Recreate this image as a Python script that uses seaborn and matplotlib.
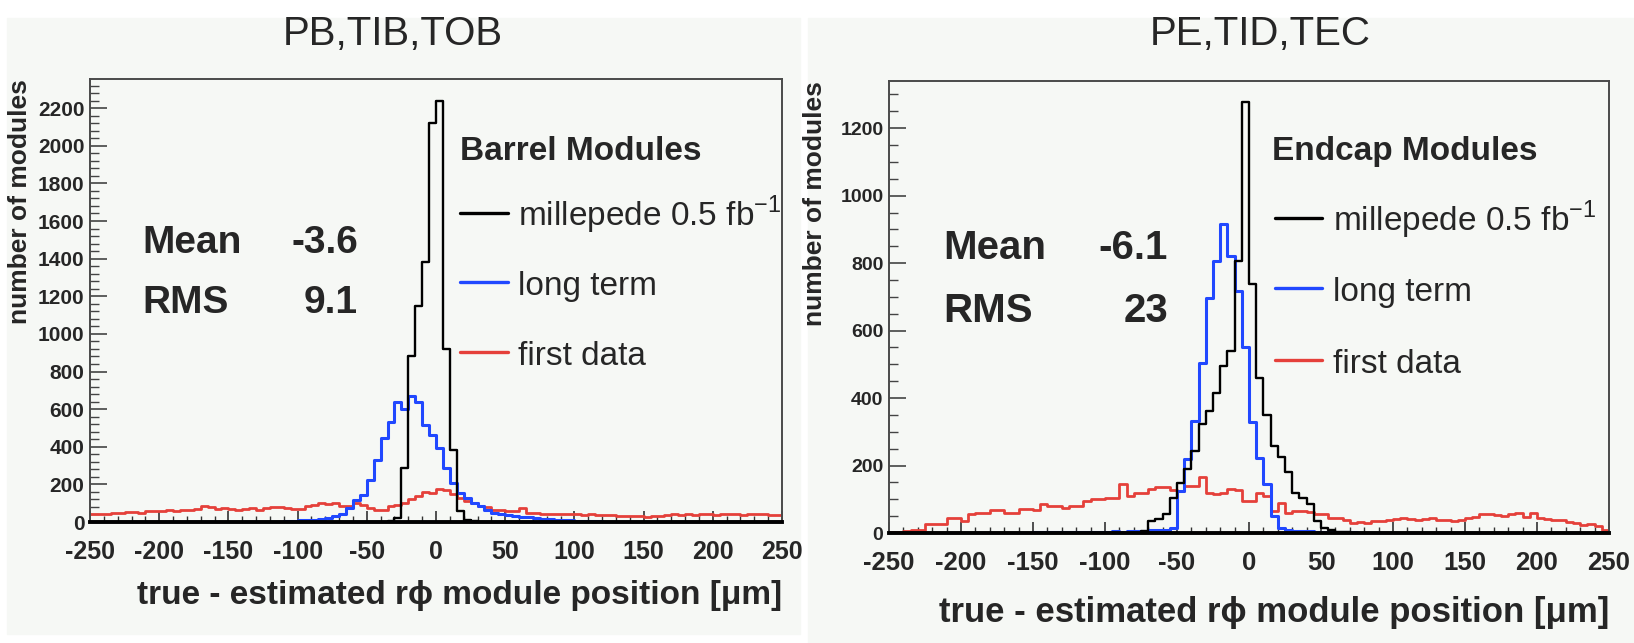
import numpy as np
import pandas as pd
import seaborn as sns
import matplotlib
matplotlib.use("Agg")
import matplotlib.pyplot as plt
from matplotlib.lines import Line2D
from matplotlib.patches import Rectangle
from matplotlib.ticker import MultipleLocator

# 5 um bins from -250 to 250 (left edges)
bin_left = list(range(-250, 250, 5))
bin_edges = list(range(-250, 255, 5))

x_ticks = [-250, -200, -150, -100, -50, 0, 50, 100, 150, 200, 250]
y_ticks_barrel = [0, 200, 400, 600, 800, 1000, 1200, 1400, 1600, 1800, 2000, 2200]
y_ticks_endcap = [0, 200, 400, 600, 800, 1000, 1200]

# --- barrel (PB, TIB, TOB) ---
barrel_millepede = [
    0, 0, 0, 0, 0, 0, 0, 0, 0, 0,
    0, 0, 0, 0, 0, 0, 0, 0, 0, 0,
    0, 0, 0, 0, 0, 0, 0, 0, 0, 0,
    0, 0, 0, 0, 0, 0, 0, 0, 0, 0,
    0, 0, 0, 5, 20, 285, 883, 1150, 1380, 2120,
    2240, 920, 382, 58, 12, 5, 0, 0, 0, 0,
    0, 0, 0, 0, 0, 0, 0, 0, 0, 0,
    0, 0, 0, 0, 0, 0, 0, 0, 0, 0,
    0, 0, 0, 0, 0, 0, 0, 0, 0, 0,
    0, 0, 0, 0, 0, 0, 0, 0, 0, 0,
]
barrel_longterm = [
    0, 0, 0, 0, 0, 0, 0, 0, 0, 0,
    0, 0, 0, 0, 0, 0, 0, 0, 0, 0,
    0, 0, 0, 0, 0, 0, 0, 0, 3, 5,
    8, 10, 12, 16, 22, 30, 45, 74, 118, 145,
    224, 330, 444, 533, 638, 603, 670, 638, 515, 462,
    392, 286, 206, 153, 127, 100, 85, 65, 50, 40,
    35, 30, 28, 25, 20, 18, 15, 12, 10, 8,
    6, 5, 4, 3, 2, 0, 0, 0, 0, 0,
    0, 0, 0, 0, 0, 0, 0, 0, 0, 0,
    0, 0, 0, 0, 0, 0, 0, 0, 0, 0,
]
barrel_firstdata = [
    42, 45, 40, 50, 48, 52, 55, 50, 58, 60,
    56, 62, 60, 65, 62, 70, 85, 80, 70, 72,
    68, 65, 70, 72, 66, 75, 80, 78, 72, 68,
    70, 84, 90, 100, 98, 102, 84, 86, 100, 92,
    74, 63, 62, 86, 92, 100, 120, 140, 160, 154,
    175, 172, 150, 127, 110, 101, 84, 80, 66, 64,
    56, 58, 72, 50, 48, 44, 45, 40, 42, 44,
    40, 38, 42, 36, 38, 35, 34, 30, 32, 30,
    28, 32, 30, 36, 40, 38, 42, 36, 40, 44,
    38, 42, 45, 40, 38, 44, 40, 42, 38, 35,
]

# --- endcap (PE, TID, TEC) ---
endcap_millepede = [
    0, 0, 0, 0, 0, 0, 0, 0, 0, 0,
    0, 0, 0, 0, 0, 0, 0, 0, 0, 0,
    0, 0, 0, 0, 0, 0, 0, 0, 0, 0,
    0, 0, 0, 0, 0, 5, 35, 42, 56, 105,
    149, 190, 243, 323, 362, 416, 495, 540, 807, 1277,
    738, 460, 350, 258, 226, 180, 120, 105, 85, 35,
    15, 8, 4, 2, 0, 0, 0, 0, 0, 0,
    0, 0, 0, 0, 0, 0, 0, 0, 0, 0,
    0, 0, 0, 0, 0, 0, 0, 0, 0, 0,
    0, 0, 0, 0, 0, 0, 0, 0, 0, 0,
]
endcap_longterm = [
    0, 0, 0, 0, 0, 0, 0, 0, 0, 0,
    0, 0, 0, 0, 0, 0, 0, 0, 0, 0,
    2, 3, 2, 3, 4, 3, 3, 4, 3, 4,
    4, 5, 4, 6, 5, 6, 8, 8, 10, 15,
    125, 219, 332, 505, 698, 807, 916, 822, 718, 550,
    330, 222, 145, 50, 15, 8, 6, 5, 5, 4,
    4, 3, 3, 2, 2, 1, 1, 1, 0, 0,
    0, 0, 0, 0, 0, 0, 0, 0, 0, 0,
    0, 0, 0, 0, 0, 0, 0, 0, 0, 0,
    0, 0, 0, 0, 0, 0, 0, 0, 0, 0,
]
endcap_firstdata = [
    2, 3, 5, 8, 10, 27, 27, 27, 45, 45,
    35, 55, 60, 60, 67, 67, 60, 60, 70, 70,
    67, 85, 80, 80, 75, 80, 80, 95, 100, 100,
    105, 105, 145, 110, 120, 120, 130, 135, 135, 128,
    125, 140, 140, 165, 120, 115, 118, 130, 128, 95,
    95, 120, 110, 65, 90, 60, 65, 65, 62, 55,
    55, 45, 45, 40, 30, 32, 30, 35, 35, 40,
    42, 45, 42, 40, 42, 45, 40, 38, 35, 40,
    45, 48, 55, 55, 52, 50, 55, 58, 48, 60,
    45, 42, 38, 38, 32, 30, 25, 28, 22, 10,
]

series_names = ["millepede 0.5 fb$^{\\mathregular{-1}}$", "long term", "first data"]
colors = {"millepede": "black", "longterm": "#2148ff", "firstdata": "#e5403a"}
widths = {"millepede": 1.7, "longterm": 2.2, "firstdata": 2.0}

W, H = 1634, 643
BG = "#f6f8f5"


def fx(x):
    return x / W


def fy(y):
    return 1 - y / H


sns.set_style("ticks")
plt.rcParams["font.family"] = ["Liberation Sans", "DejaVu Sans"]
plt.rcParams["mathtext.fontset"] = "custom"
plt.rcParams["mathtext.rm"] = "Liberation Sans"
plt.rcParams["axes.facecolor"] = BG

fig = plt.figure(figsize=(W / 100, H / 100), dpi=100, facecolor="white")
fig.add_artist(Rectangle((fx(7), fy(634)), fx(800) - fx(7), fy(18) - fy(634),
                         transform=fig.transFigure, color=BG, zorder=-10))
fig.add_artist(Rectangle((fx(808), fy(643)), fx(1634) - fx(808), fy(18) - fy(643),
                         transform=fig.transFigure, color=BG, zorder=-10))


def make_axes(l, t, r, b):
    return fig.add_axes([fx(l), fy(b), fx(r) - fx(l), fy(t) - fy(b)])


def draw_panel(ax, df, ymax, yticks, yminor, ysize, xsize, labx, laby):
    for key in ["firstdata", "longterm", "millepede"]:
        sns.histplot(data=df, x="pos", weights=key, bins=bin_edges, element="step",
                     fill=False, color=colors[key], linewidth=widths[key], ax=ax,
                     legend=False)
    ax.set_xlim(-250, 250)
    ax.set_ylim(0, ymax)
    ax.set_xticks(x_ticks)
    ax.set_xticklabels([str(v) for v in x_ticks], fontweight="bold", fontsize=xsize)
    ax.set_yticks(yticks)
    ax.set_yticklabels([str(v) for v in yticks], fontweight="bold", fontsize=ysize)
    ax.xaxis.set_minor_locator(MultipleLocator(10))
    ax.yaxis.set_minor_locator(MultipleLocator(yminor))
    ax.tick_params(axis="x", which="major", direction="in", length=8, width=1.2,
                   pad=13, color="#333333")
    ax.tick_params(axis="x", which="minor", direction="in", length=4, width=1.0,
                   color="#333333")
    ax.tick_params(axis="y", which="major", direction="in", length=12, width=1.2,
                   pad=4, color="#444444")
    ax.tick_params(axis="y", which="minor", direction="in", length=6.5, width=1.0,
                   color="#444444")
    for s in ["left", "top", "right"]:
        ax.spines[s].set_visible(True)
        ax.spines[s].set_color("#4a4a4a")
        ax.spines[s].set_linewidth(1.4)
    ax.spines["bottom"].set_color("black")
    ax.spines["bottom"].set_linewidth(2.8)
    ax.set_xlabel("true - estimated r\u03d5 module position [\u03bcm]", fontsize=labx,
                  fontweight="bold", loc="right")
    ax.xaxis.set_label_coords(1.0, laby)
    ax.set_ylabel("number of modules", fontsize=19, fontweight="bold", loc="top")


barrel = pd.DataFrame({"pos": [b + 2.5 for b in bin_left],
                       "millepede": barrel_millepede,
                       "longterm": barrel_longterm,
                       "firstdata": barrel_firstdata})
endcap = pd.DataFrame({"pos": [b + 2.5 for b in bin_left],
                       "millepede": endcap_millepede,
                       "longterm": endcap_longterm,
                       "firstdata": endcap_firstdata})

ax1 = make_axes(90, 79, 782, 522)
draw_panel(ax1, barrel, 2355, y_ticks_barrel, 40, 15, 18, 24, -0.132)
ax1.yaxis.set_label_coords((32 - 90) / 692, 1.0)

ax2 = make_axes(889, 81, 1609, 533)
draw_panel(ax2, endcap, 1340, y_ticks_endcap, 50, 14, 18.5, 25, -0.14)
ax2.yaxis.set_label_coords((827 - 889) / 720, 1.0)

# titles
fig.text(fx(393), fy(45), "PB,TIB,TOB", fontsize=29, ha="center", va="baseline")
fig.text(fx(1260), fy(45), "PE,TID,TEC", fontsize=29, ha="center", va="baseline")

# statistics boxes
stats = [
    (142, 358, 253, 313, "-3.6", "9.1", 28),
    (943, 1168, 259, 322, "-6.1", "23", 29),
]
for xl, xr, ym, yr, mean, rms, fs in stats:
    fig.text(fx(xl), fy(ym), "Mean", fontsize=fs, fontweight="bold", va="baseline")
    fig.text(fx(xr), fy(ym), mean, fontsize=fs, fontweight="bold", va="baseline", ha="right")
    fig.text(fx(xl), fy(yr), "RMS", fontsize=fs, fontweight="bold", va="baseline")
    fig.text(fx(xr), fy(yr), rms, fontsize=fs, fontweight="bold", va="baseline", ha="right")

# legends
legends = [
    ("Barrel Modules", 460, 160, 460, 508, 518, [213, 282, 352]),
    ("Endcap Modules", 1272, 160, 1275, 1322, 1333, [218, 288, 360]),
]
keys = ["millepede", "longterm", "firstdata"]
for title, tx, ty, lx0, lx1, txt_x, ys in legends:
    fig.text(fx(tx), fy(ty), title, fontsize=24, fontweight="bold", va="baseline")
    for key, name, yy in zip(keys, series_names, ys):
        fig.add_artist(Line2D([fx(lx0), fx(lx1)], [fy(yy), fy(yy)],
                              transform=fig.transFigure, color=colors[key], lw=2.4))
        fig.text(fx(txt_x), fy(yy + 13), name, fontsize=24, va="baseline")

fig.savefig("out.png", dpi=100, facecolor=fig.get_facecolor())
